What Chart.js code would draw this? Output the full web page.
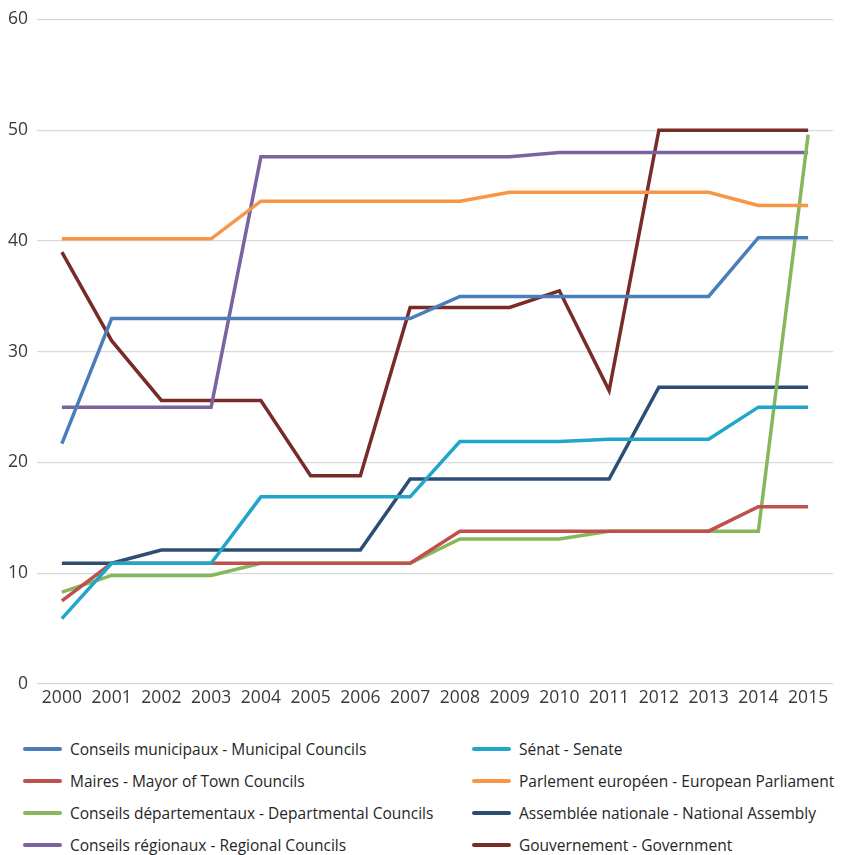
<!DOCTYPE html>
<html lang="fr">
<head>
  <meta charset="UTF-8">
  <title>Femmes élues 2000-2015</title>
  <style>
    body {
      margin: 0;
      background: #fff;
      font-family: "Open Sans", sans-serif;
    }
    .wrap {
      position: relative;
      width: 845px;
      height: 855px;
    }
    .chart-box {
      position: absolute;
      left: 0;
      top: 0;
      width: 845px;
      height: 715px;
    }
    .legend {
      position: absolute;
      left: 0;
      top: 0;
      width: 845px;
    }
    .item {
      position: absolute;
      font-size: 15.5px;
      color: #262626;
      white-space: nowrap;
      line-height: 20px;
    }
    .item span.mark {
      position: absolute;
      top: 8px;
      width: 39px;
      height: 4px;
      border-radius: 2px;
    }
  </style>
  <script src="https://cdn.jsdelivr.net/npm/chart.js"></script>
</head>
<body>
  <div class="wrap">
    <div class="chart-box">
      <canvas id="myChart" width="845" height="715"></canvas>
    </div>
    <div class="legend" id="legend"></div>
  </div>

  <script>
    // annees
    const years = ['2000', '2001', '2002', '2003', '2004', '2005', '2006', '2007',
      '2008', '2009', '2010', '2011', '2012', '2013', '2014', '2015'];

    const municipaux = [21.7, 33, 33, 33, 33, 33, 33, 33, 35, 35, 35, 35, 35, 35, 40.3, 40.3];
    const senat = [5.9, 10.9, 10.9, 10.9, 16.9, 16.9, 16.9, 16.9, 21.9, 21.9, 21.9, 22.1, 22.1, 22.1, 25, 25];
    const maires = [7.5, 10.9, 10.9, 10.9, 10.9, 10.9, 10.9, 10.9, 13.8, 13.8, 13.8, 13.8, 13.8, 13.8, 16, 16];
    const europeen = [40.2, 40.2, 40.2, 40.2, 43.6, 43.6, 43.6, 43.6, 43.6, 44.4, 44.4, 44.4, 44.4, 44.4, 43.2, 43.2];
    const departementaux = [8.3, 9.8, 9.8, 9.8, 10.9, 10.9, 10.9, 10.9, 13.1, 13.1, 13.1, 13.8, 13.8, 13.8, 13.8, 49.6];
    const assemblee = [10.9, 10.9, 12.1, 12.1, 12.1, 12.1, 12.1, 18.5, 18.5, 18.5, 18.5, 18.5, 26.8, 26.8, 26.8, 26.8];
    const regionaux = [25, 25, 25, 25, 47.6, 47.6, 47.6, 47.6, 47.6, 47.6, 48, 48, 48, 48, 48, 48];
    const gouvernement = [39, 31, 25.6, 25.6, 25.6, 18.8, 18.8, 34, 34, 34, 35.5, 26.5, 50, 50, 50, 50];

    const yTicks = [0, 10, 20, 30, 40, 50, 60];

    // ordre de la legende (lignes de 2)
    const series = [
      { label: 'Conseils municipaux - Municipal Councils', data: municipaux, color: '#4A7EBB' },
      { label: 'Sénat - Senate', data: senat, color: '#1FA6C8' },
      { label: 'Maires - Mayor of Town Councils', data: maires, color: '#C0504D' },
      { label: 'Parlement européen - European Parliament', data: europeen, color: '#F79646' },
      { label: 'Conseils départementaux - Departmental Councils', data: departementaux, color: '#86B75A' },
      { label: 'Assemblée nationale - National Assembly', data: assemblee, color: '#2C4D75' },
      { label: 'Conseils régionaux - Regional Councils', data: regionaux, color: '#7B62A0' },
      { label: 'Gouvernement - Government', data: gouvernement, color: '#772C2A' }
    ];

    const datasets = series.map(s => ({
      label: s.label,
      data: s.data,
      borderColor: s.color,
      backgroundColor: s.color,
      borderWidth: 3.5,
      pointRadius: 0,
      tension: 0,
      fill: false
    }));

    const ctx = document.getElementById('myChart').getContext('2d');
    const myChart = new Chart(ctx, {
      type: 'line',
      data: { labels: years, datasets: datasets },
      options: {
        responsive: false,
        animation: false,
        layout: { padding: { top: 18, right: 12, left: 0, bottom: 0 } },
        plugins: {
          legend: { display: false },
          tooltip: { enabled: false }
        },
        scales: {
          x: {
            offset: true,
            grid: { display: false, drawTicks: false },
            border: { display: false },
            ticks: {
              color: '#3a3a3a',
              font: { family: 'Open Sans', size: 17.5 },
              padding: 4,
              maxRotation: 0,
              autoSkip: false
            },
            afterFit: function (scale) { scale.height = 31; }
          },
          y: {
            min: 0,
            max: 60,
            afterBuildTicks: function (scale) {
              scale.ticks = yTicks.map(v => ({ value: v }));
            },
            grid: { color: '#d9d9d9', lineWidth: 1.3, drawTicks: false },
            border: { display: false },
            ticks: {
              color: '#3a3a3a',
              font: { family: 'Open Sans', size: 17.5 },
              padding: 9
            },
            afterFit: function (scale) { scale.width = 37; }
          }
        }
      }
    });

    // legende en 2 colonnes
    const legend = document.getElementById('legend');
    const rowsY = [749, 781, 813, 845];
    const colMark = [23, 472];
    const colText = [70, 519];
    series.forEach((s, i) => {
      const col = i % 2;
      const row = Math.floor(i / 2);
      const item = document.createElement('div');
      item.className = 'item';
      item.style.left = colText[col] + 'px';
      item.style.top = (rowsY[row] - 10) + 'px';
      item.textContent = s.label;
      const mark = document.createElement('span');
      mark.className = 'mark';
      mark.style.left = (colMark[col] - colText[col]) + 'px';
      mark.style.background = s.color;
      item.appendChild(mark);
      legend.appendChild(item);
    });
  </script>
</body>
</html>
